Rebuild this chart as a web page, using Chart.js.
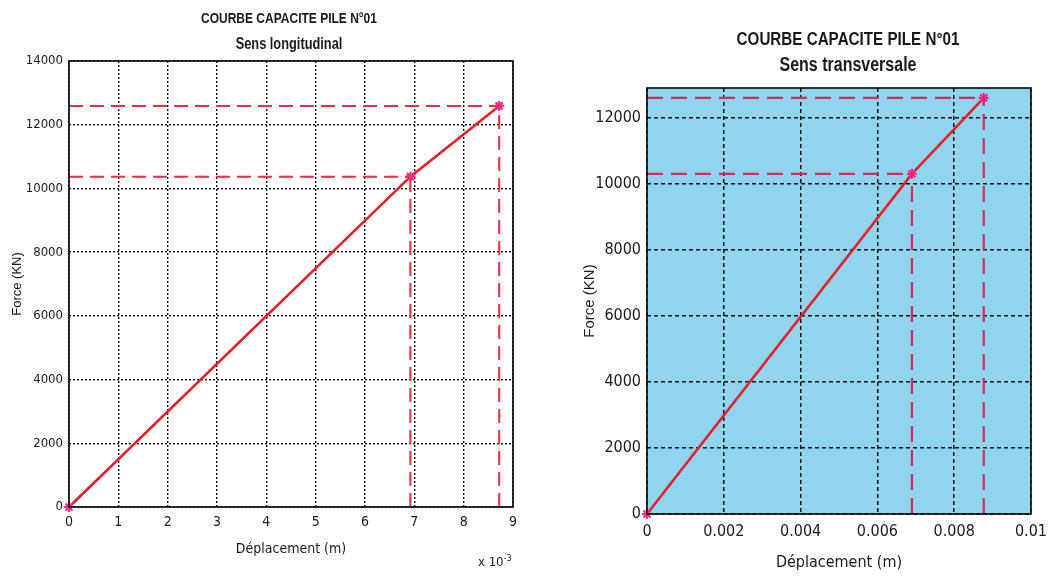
<!DOCTYPE html>
<html>
<head>
<meta charset="utf-8">
<script src="https://cdn.jsdelivr.net/npm/chart.js@4.4.1/dist/chart.umd.min.js"></script>
<style>
  html, body { margin: 0; padding: 0; background: #ffffff; }
  #page { position: relative; width: 1055px; height: 580px; overflow: hidden; }
  #longWrap { position: absolute; left: 0; top: 0; width: 540px; height: 580px; }
  #transWrap { position: absolute; left: 540px; top: 0; width: 515px; height: 580px; }
  .ttl { position: absolute; width: 400px; text-align: center; color: #1a1a1a;
         font-family: 'Liberation Sans', Arial, sans-serif; font-weight: bold;
         transform: scaleX(0.8); transform-origin: 50% 50%; white-space: nowrap; line-height: 1; }
  #mult { position: absolute; left: 478px; top: 553px; font: 13px 'DejaVu Sans Condensed', sans-serif; color: #222; }
  #mult sup { font-size: 9px; }
</style>
</head>
<body>
<div id="page">
  <div id="longWrap"><canvas id="longChart" width="540" height="580"></canvas></div>
  <div id="transWrap"><canvas id="transChart" width="515" height="580"></canvas></div>
  <div class="ttl" style="left:89px; top:10px; font-size:15px;">COURBE CAPACITE PILE N°01</div>
  <div class="ttl" style="left:89px; top:36px; font-size:16px;">Sens longitudinal</div>
  <div class="ttl" style="left:648px; top:29px; font-size:19px;">COURBE CAPACITE PILE N°01</div>
  <div class="ttl" style="left:648px; top:54px; font-size:20px;">Sens transversale</div>
  <div id="mult">x 10<sup>-3</sup></div>
</div>
<script>
// Pile capacity curves: force (kN) against displacement (m)
const dispLong   = [0, 0.00692, 0.00872];   // longitudinal direction, m
const forceLong  = [0, 10370, 12590];       // kN
const dispTrans  = [0, 0.00690, 0.00877];   // transverse direction, m
const forceTrans = [0, 10300, 12600];       // kN

const longXTicks  = [0, 0.001, 0.002, 0.003, 0.004, 0.005, 0.006, 0.007, 0.008, 0.009];
const longYTicks  = [0, 2000, 4000, 6000, 8000, 10000, 12000, 14000];
const transXTicks = [0, 0.002, 0.004, 0.006, 0.008, 0.01];
const transYTicks = [0, 2000, 4000, 6000, 8000, 10000, 12000];

const FONT = "'DejaVu Sans Condensed', 'Liberation Sans Narrow', sans-serif";

// plot-area background and boxed frame
const boxPlugin = {
  id: 'box',
  beforeDraw(chart, args, opts) {
    const a = chart.chartArea, ctx = chart.ctx;
    ctx.save();
    ctx.fillStyle = opts.fill;
    ctx.fillRect(a.left, a.top, a.right - a.left, a.bottom - a.top);
    ctx.restore();
  },
  afterDatasetsDraw(chart) {
    const a = chart.chartArea, ctx = chart.ctx;
    ctx.save();
    ctx.strokeStyle = '#111';
    ctx.lineWidth = 1.7;
    ctx.strokeRect(a.left, a.top, a.right - a.left, a.bottom - a.top);
    ctx.restore();
  }
};

// dashed reference lines from each marked point to both axes
function guideSets(xs, ys, layers) {
  const out = [];
  for (let i = 1; i < xs.length; i++) {
    const h = [{x: 0, y: ys[i]}, {x: xs[i], y: ys[i]}];
    const v = [{x: xs[i], y: 0}, {x: xs[i], y: ys[i]}];
    [h, v].forEach(pts => {
      layers.forEach(l => out.push({
        data: pts, borderColor: l.color, borderWidth: l.width, borderDash: l.dash,
        borderDashOffset: l.offset || 0, pointRadius: 0, fill: false, clip: false
      }));
    });
  }
  return out;
}

function makeChart(id, cfg) {
  const curve = cfg.xs.map((x, i) => ({x: x, y: cfg.ys[i]}));
  return new Chart(document.getElementById(id), {
    type: 'line',
    data: {
      datasets: guideSets(cfg.xs, cfg.ys, cfg.guideLayers).concat([{
        data: curve,
        borderColor: '#e3202a',
        borderWidth: 2.6,
        pointStyle: 'star',
        pointRadius: 5,
        pointBorderColor: '#ff2a8c',
        pointBorderWidth: 2.2,
        pointBackgroundColor: '#ff2a8c',
        tension: 0,
        fill: false,
        clip: false
      }])
    },
    options: {
      responsive: false,
      animation: false,
      events: [],
      layout: { padding: { top: cfg.padTop, right: cfg.padRight, bottom: 0, left: 0 } },
      plugins: {
        legend: { display: false },
        tooltip: { enabled: false },
        title: { display: false },
        box: { fill: cfg.bg }
      },
      scales: {
        x: {
          type: 'linear',
          min: cfg.xMin, max: cfg.xMax,
          afterBuildTicks: s => { s.ticks = cfg.xTicks.map(v => ({value: v})); },
          afterFit: s => { s.height = cfg.xHeight; },
          grid: { color: '#111', lineWidth: cfg.gridWidth, drawTicks: false },
          border: { display: false, dash: cfg.gridDash },
          ticks: {
            color: '#1a1a1a', padding: cfg.xTickPad, maxRotation: 0,
            font: { family: FONT, size: cfg.xTickSize },
            callback: cfg.xFmt
          },
          title: {
            display: true, text: 'Déplacement (m)', color: '#1a1a1a',
            font: { family: FONT, size: cfg.axisSize },
            padding: { top: 0, bottom: cfg.xTitlePad }
          }
        },
        y: {
          type: 'linear',
          min: 0, max: cfg.yMax,
          afterBuildTicks: s => { s.ticks = cfg.yTicks.map(v => ({value: v})); },
          afterFit: s => { s.width = cfg.yWidth; },
          grid: { color: '#111', lineWidth: cfg.gridWidth, drawTicks: false },
          border: { display: false, dash: cfg.gridDash },
          ticks: {
            color: '#1a1a1a', padding: cfg.yTickPad,
            font: { family: FONT, size: cfg.yTickSize },
            callback: v => String(v)
          },
          title: {
            display: true, text: 'Force (KN)', color: '#1a1a1a',
            font: { family: "'Liberation Sans', Arial, sans-serif", size: cfg.yAxisSize },
            padding: { top: cfg.yTitlePad, bottom: 0 }
          }
        }
      }
    },
    plugins: [boxPlugin]
  });
}

makeChart('longChart', {
  xs: dispLong, ys: forceLong,
  xMin: 0, xMax: 0.009, yMax: 14000,
  xTicks: longXTicks, yTicks: longYTicks,
  xFmt: v => String(Math.round(v * 1000)),
  bg: '#ffffff',
  guideLayers: [
    {color: '#e8304a', width: 2, dash: [14, 7]},
    {color: '#f2b040', width: 2, dash: [4, 17], offset: 16}
  ],
  gridDash: [2, 2], gridWidth: 1.4,
  padTop: 61, padRight: 27, xHeight: 73, yWidth: 69,
  xTickSize: 14, yTickSize: 13, axisSize: 14, yAxisSize: 13,
  xTickPad: 7, yTickPad: 6, xTitlePad: 22, yTitlePad: 10
});

makeChart('transChart', {
  xs: dispTrans, ys: forceTrans,
  xMin: 0, xMax: 0.01, yMax: 12900,
  xTicks: transXTicks, yTicks: transYTicks,
  xFmt: v => v === 0 ? '0' : String(+v.toFixed(3)),
  bg: '#90d4ee',
  guideLayers: [
    {color: '#d42a5c', width: 2.2, dash: [16, 8]}
  ],
  gridDash: [4, 3], gridWidth: 1.5,
  padTop: 88, padRight: 15, xHeight: 66, yWidth: 107,
  xTickSize: 16, yTickSize: 16, axisSize: 16, yAxisSize: 15,
  xTickPad: 8, yTickPad: 6, xTitlePad: 8, yTitlePad: 41
});
</script>
</body>
</html>
